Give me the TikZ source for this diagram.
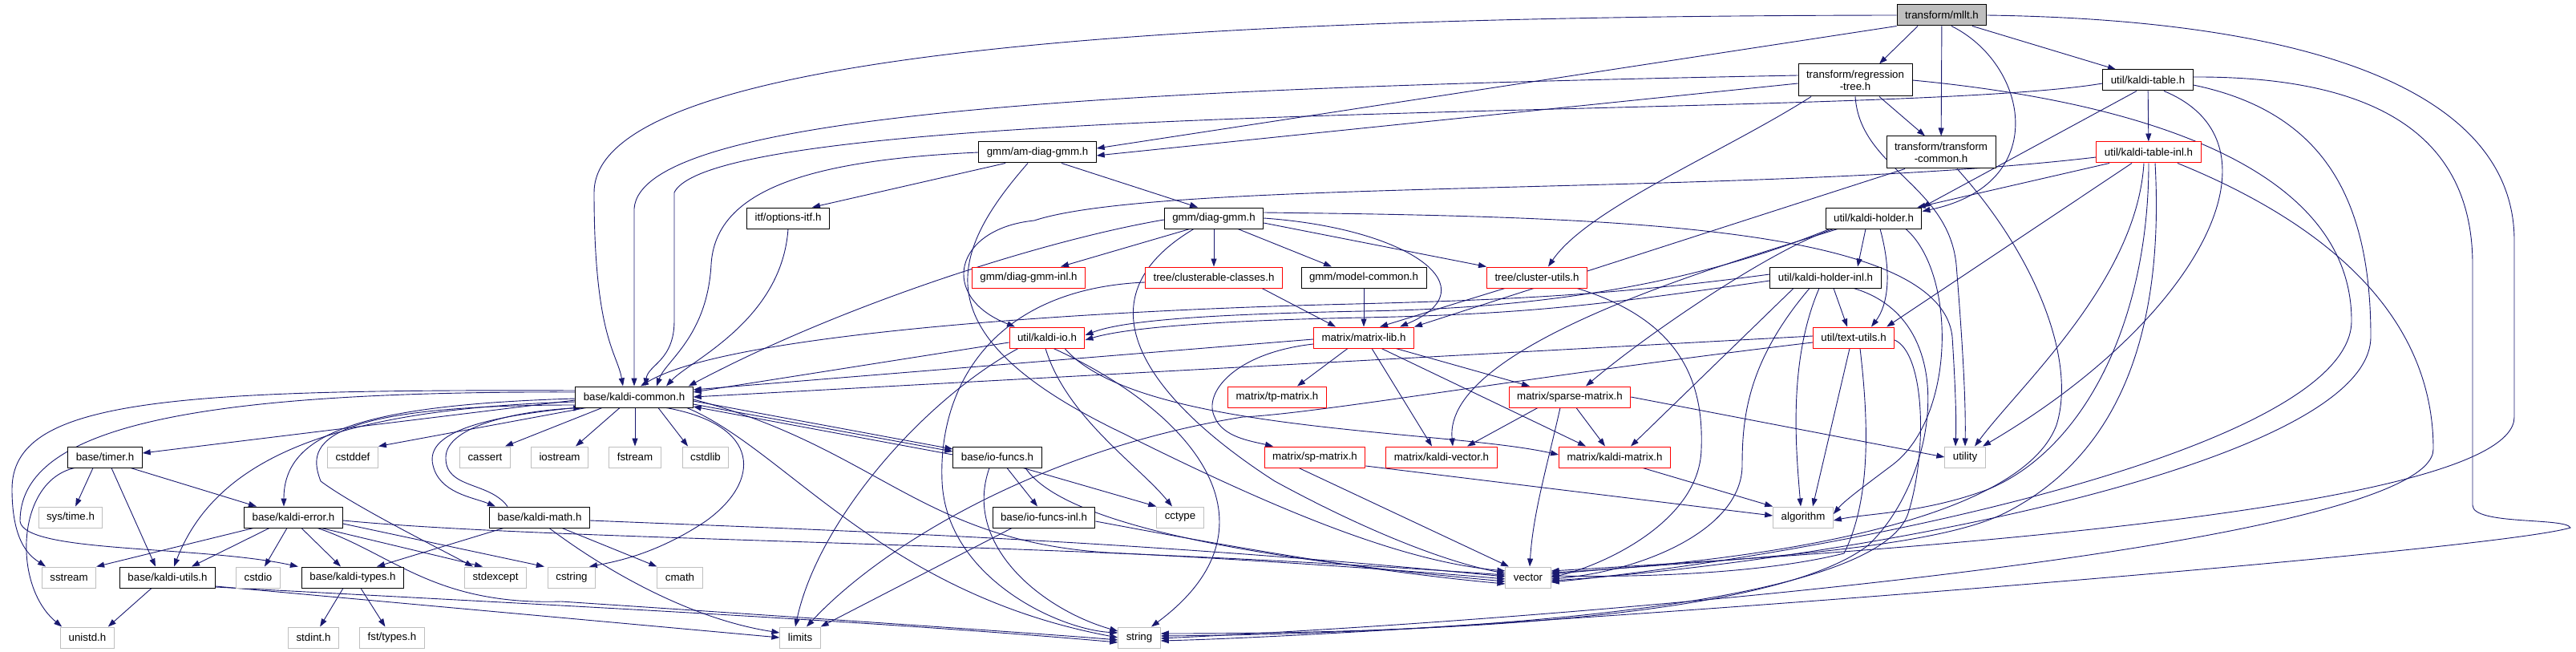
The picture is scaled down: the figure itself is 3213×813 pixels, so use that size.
\documentclass[tikz,border=0pt]{standalone}
\usepackage{fontspec}
\setmainfont{Liberation Sans}
\usepackage{tikz}
\usetikzlibrary{arrows.meta}
\pgfdeclarelayer{edges}
\pgfsetlayers{edges,main}
\definecolor{edgeblue}{RGB}{25,25,112}
\definecolor{boxgray}{RGB}{191,191,191}

\begin{document}
\begin{tikzpicture}[x=1pt,y=-1pt,
	hdr/.style={draw=black, line width=1pt, fill=white, inner xsep=10pt, inner ysep=4pt,
		minimum height=26pt, font=\fontsize{13.3}{15}\selectfont},
	twoline/.style={hdr, align=center, minimum height=40pt},
	trunc/.style={hdr, draw=red},
	sys/.style={hdr, draw=boxgray},
	root/.style={hdr, fill=boxgray},
	dep/.style={draw=edgeblue, line width=0.9pt, -{Triangle[length=10pt,width=7pt]}}]

	\useasboundingbox (0,0) rectangle (3213,813);

	% headers
	\node[root] (mllt) at (2422,19) {transform/mllt.h};
	\node[twoline] (regtree) at (2314,100) {transform/regression\\-tree.h};
	\node[twoline] (transcommon) at (2421,190) {transform/transform\\-common.h};
	\node[hdr] (table) at (2679,100) {util/kaldi-table.h};
	\node[trunc] (tableinl) at (2680,190) {util/kaldi-table-inl.h};
	\node[hdr] (amdiag) at (1294,190) {gmm/am-diag-gmm.h};
	\node[hdr] (optitf) at (983,272) {itf/options-itf.h};
	\node[hdr] (diaggmm) at (1514,272) {gmm/diag-gmm.h};
	\node[hdr] (holder) at (2337,272) {util/kaldi-holder.h};
	\node[trunc] (diaginl) at (1283,346) {gmm/diag-gmm-inl.h};
	\node[trunc] (clusterable) at (1514,346) {tree/clusterable-classes.h};
	\node[hdr] (modelcommon) at (1701,346) {gmm/model-common.h};
	\node[trunc] (clusterutils) at (1917,346) {tree/cluster-utils.h};
	\node[hdr] (holderinl) at (2277,346) {util/kaldi-holder-inl.h};
	\node[trunc] (kaldiio) at (1306,421) {util/kaldi-io.h};
	\node[trunc] (matrixlib) at (1701,421) {matrix/matrix-lib.h};
	\node[trunc] (textutils) at (2312,421) {util/text-utils.h};
	\node[hdr] (common) at (791,495) {base/kaldi-common.h};
	\node[trunc] (tpmatrix) at (1593,495) {matrix/tp-matrix.h};
	\node[trunc] (sparse) at (1958,495) {matrix/sparse-matrix.h};
	\node[hdr] (timer) at (131,570) {base/timer.h};
	\node[sys] (cstddef) at (440,570) {cstddef};
	\node[sys] (cassert) at (605,570) {cassert};
	\node[sys] (iostream) at (698,570) {iostream};
	\node[sys] (fstream) at (792,570) {fstream};
	\node[sys] (cstdlib) at (880,570) {cstdlib};
	\node[hdr] (iofuncs) at (1244,570) {base/io-funcs.h};
	\node[trunc] (spmatrix) at (1640,570) {matrix/sp-matrix.h};
	\node[trunc] (kvector) at (1798,570) {matrix/kaldi-vector.h};
	\node[trunc] (kmatrix) at (2014,570) {matrix/kaldi-matrix.h};
	\node[sys] (utility) at (2451,570) {utility};
	\node[sys] (systime) at (88,645) {sys/time.h};
	\node[hdr] (kerror) at (366,645) {base/kaldi-error.h};
	\node[hdr] (kmath) at (673,645) {base/kaldi-math.h};
	\node[hdr] (iofuncsinl) at (1302,645) {base/io-funcs-inl.h};
	\node[sys] (cctype) at (1472,645) {cctype};
	\node[sys] (algorithm) at (2249,645) {algorithm};
	\node[sys] (sstream) at (86,720) {sstream};
	\node[hdr] (kutils) at (209,720) {base/kaldi-utils.h};
	\node[sys] (cstdio) at (322,720) {cstdio};
	\node[hdr] (ktypes) at (440,720) {base/kaldi-types.h};
	\node[sys] (stdexcept) at (618,720) {stdexcept};
	\node[sys] (cstring) at (713,720) {cstring};
	\node[sys] (cmath) at (848,720) {cmath};
	\node[sys] (vector) at (1906,720) {vector};
	\node[sys] (unistd) at (109,795) {unistd.h};
	\node[sys] (stdint) at (391,795) {stdint.h};
	\node[sys] (fsttypes) at (489,795) {fst/types.h};
	\node[sys] (limits) at (998,795) {limits};
	\node[sys] (string) at (1421,795) {string};

	\begin{pgfonlayer}{edges}
	% transform/mllt.h
	\draw[dep] (mllt.west) .. controls (1500,20) and (741,60) .. (741,240) .. controls (741,420) and (770,440) .. ([xshift=-14pt]common.north);
	\draw[dep] ([xshift=-30pt]mllt.south) -- ([xshift=30pt]regtree.north);
	\draw[dep] (mllt.south west) -- ([yshift=5pt]amdiag.east);
	\draw[dep] (mllt) -- (transcommon);
	\draw[dep] ([xshift=12pt]mllt.south) .. controls (2530,80) and (2560,230) .. ([yshift=-5pt]holder.north east);
	\draw[dep] ([xshift=38pt]mllt.south) -- ([xshift=-40pt]table.north);
	\draw[dep] (mllt.east) .. controls (2900,25) and (3136,120) .. (3136,300) -- (3136,520) .. controls (3136,640) and (2300,690) .. ([yshift=8pt]vector.east);

	% transform/regression-tree.h
	\draw[dep] ([yshift=6pt]regtree.west) .. controls (1400,110) and (800,140) .. (791,260) -- (common.north);
	\draw[dep] ([yshift=-4pt]regtree.west) -- ([yshift=-4pt]amdiag.east);
	\draw[dep] ([xshift=30pt]regtree.south) -- ([xshift=-20pt]transcommon.north);
	\draw[dep] ([xshift=-55pt]regtree.south) .. controls (2150,190) and (1980,260) .. ([xshift=14pt]clusterutils.north);
	\draw[dep] (regtree.south) .. controls (2320,210) and (2430,230) .. (2440,330) .. controls (2448,430) and (2452,500) .. (utility.north);
	\draw[dep] (regtree.east) .. controls (2700,130) and (2933,220) .. (2933,400) .. controls (2933,560) and (2300,690) .. ([yshift=-6pt]vector.east);

	% transform/transform-common.h
	\draw[dep] ([xshift=-45pt]transcommon.south) -- (matrixlib.north east);
	\draw[dep] ([xshift=20pt]transcommon.south) .. controls (2540,320) and (2590,450) .. (2565,530) .. controls (2520,650) and (2200,700) .. ([yshift=6pt]vector.east);

	% util/kaldi-table.h
	\draw[dep] ([xshift=-14pt]table.south) -- (holder.north east);
	\draw[dep] (table) -- (tableinl);
	\draw[dep] ([yshift=-4pt]table.west) .. controls (2350,150) and (900,120) .. (841,240) -- (841,400) .. controls (841,450) and (808,455) .. ([xshift=14pt]common.north);
	\draw[dep] ([xshift=20pt]table.south) .. controls (2860,180) and (2740,400) .. ([xshift=22pt]utility.north);
	\draw[dep] ([yshift=-6pt]table.east) .. controls (2900,140) and (2957,250) .. (2957,420) .. controls (2957,580) and (2300,700) .. ([yshift=-4pt]vector.east);
	\draw[dep] ([yshift=4pt]table.east) .. controls (2950,95) and (3084,160) .. (3084,330) -- (3084,630) .. controls (3084,655) and (3200,645) .. (3206,658) .. controls (3100,690) and (1800,790) .. ([yshift=-4pt]string.east);

	% util/kaldi-table-inl.h
	\draw[dep] ([xshift=-49pt]tableinl.south) -- ([xshift=-6pt]holder.north east);
	\draw[dep] ([yshift=-6pt]tableinl.west) .. controls (2200,245) and (1450,222) .. (1290,275) .. controls (1190,285) and (1170,370) .. ([xshift=-40pt]kaldiio.north);
	\draw[dep] ([xshift=-21pt]tableinl.south) -- ([xshift=-10pt]textutils.north east);
	\draw[dep] ([xshift=-6pt]tableinl.south) .. controls (2665,350) and (2520,480) .. ([xshift=12pt]utility.north);
	\draw[dep] (tableinl.south) .. controls (2680,400) and (2600,560) .. (2480,610) .. controls (2400,640) and (2330,640) .. ([yshift=-4pt]algorithm.east);
	\draw[dep] ([xshift=8pt]tableinl.south) .. controls (2700,420) and (2640,570) .. (2500,640) .. controls (2400,690) and (2100,700) .. ([yshift=4pt]vector.east);
	\draw[dep] ([xshift=36pt]tableinl.south) .. controls (2880,270) and (3035,380) .. (3035,560) .. controls (3035,680) and (2000,770) .. ([yshift=-1pt]string.east);

	% gmm/am-diag-gmm.h
	\draw[dep] (amdiag.west) .. controls (1000,200) and (892,240) .. (887,330) .. controls (882,420) and (830,450) .. ([xshift=28pt]common.north);
	\draw[dep] ([xshift=-40pt]amdiag.south) -- ([xshift=30pt]optitf.north);
	\draw[dep] ([xshift=30pt]amdiag.south) -- ([xshift=-20pt]diaggmm.north);
	\draw[dep] ([xshift=-12pt]amdiag.south) .. controls (1180,320) and (1150,420) .. (1400,540) .. controls (1600,640) and (1750,700) .. ([yshift=8pt]vector.west);

	% itf/options-itf.h
	\draw[dep] (optitf.south) .. controls (975,400) and (860,450) .. ([xshift=40pt]common.north);

	% gmm/diag-gmm.h
	\draw[dep] ([xshift=-30pt]diaggmm.south) -- ([xshift=40pt]diaginl.north);
	\draw[dep] (diaggmm) -- (clusterable);
	\draw[dep] ([xshift=30pt]diaggmm.south) -- ([xshift=-40pt]modelcommon.north);
	\draw[dep] ([yshift=-6pt]diaggmm.east) -- (clusterutils.north west);
	\draw[dep] (diaggmm.east) .. controls (1760,285) and (1860,360) .. ([xshift=45pt]matrixlib.north);
	\draw[dep] ([yshift=-2pt]diaggmm.west) .. controls (1300,300) and (1050,380) .. ([xshift=-6pt]common.north east);
	\draw[dep] ([xshift=-25pt]diaggmm.south) .. controls (1330,380) and (1450,510) .. (1590,600) .. controls (1700,660) and (1800,700) .. ([yshift=5pt]vector.west);
	\draw[dep] ([yshift=7pt]diaggmm.east) .. controls (2000,270) and (2420,280) .. (2435,420) .. controls (2440,500) and (2440,530) .. ([xshift=-12pt]utility.north);

	% tree/clusterable-classes.h
	\draw[dep] ([xshift=60pt]clusterable.south) -- ([xshift=-35pt]matrixlib.north);
	\draw[dep] ([yshift=-6pt]clusterable.west) .. controls (1240,360) and (1170,480) .. (1175,600) .. controls (1180,720) and (1320,785) .. ([yshift=6pt]string.west);

	% gmm/model-common.h, tree/cluster-utils.h
	\draw[dep] (modelcommon) -- (matrixlib);
	\draw[dep] ([xshift=-40pt]clusterutils.south) -- ([xshift=20pt]matrixlib.north);
	\draw[dep] ([xshift=50pt]clusterutils.south) .. controls (2100,400) and (2125,480) .. (2122,560) .. controls (2120,650) and (2000,705) .. (vector.east);

	% util/kaldi-holder.h
	\draw[dep] ([xshift=-10pt]holder.south) -- ([xshift=40pt]holderinl.north);
	\draw[dep] ([xshift=8pt]holder.south) .. controls (2360,340) and (2355,380) .. ([xshift=22pt]textutils.north);
	\draw[dep] ([xshift=-55pt]holder.south) .. controls (2100,360) and (1900,385) .. (1700,388) .. controls (1500,392) and (1400,400) .. ([yshift=3pt]kaldiio.east);
	\draw[dep] ([xshift=-50pt]holder.south) .. controls (2210,310) and (2050,420) .. ([xshift=20pt]sparse.north);
	\draw[dep] ([xshift=-45pt]holder.south) .. controls (2150,330) and (1800,430) .. ([xshift=14pt]kvector.north);
	\draw[dep] ([xshift=40pt]holder.south) .. controls (2440,340) and (2440,520) .. (2360,580) .. controls (2320,610) and (2300,625) .. ([yshift=4pt]algorithm.east);

	% util/kaldi-holder-inl.h
	\draw[dep] ([yshift=4pt]holderinl.west) .. controls (2000,370) and (1850,375) .. (1650,380) .. controls (1300,390) and (900,420) .. ([xshift=8pt]common.north);
	\draw[dep] ([yshift=-4pt]holderinl.west) .. controls (2000,380) and (1900,392) .. (1700,396) .. controls (1500,400) and (1400,410) .. ([yshift=-3pt]kaldiio.east);
	\draw[dep] ([xshift=-40pt]holderinl.south) -- ([xshift=20pt]kmatrix.north);
	\draw[dep] ([xshift=-20pt]holderinl.south) .. controls (2180,450) and (2173,520) .. (2173,580) .. controls (2173,660) and (2050,712) .. ([yshift=-2pt]vector.east);
	\draw[dep] ([xshift=-8pt]holderinl.south) .. controls (2230,450) and (2240,560) .. ([xshift=-3pt]algorithm.north);
	\draw[dep] ([xshift=10pt]holderinl.south) -- ([xshift=-8pt]textutils.north);
	\draw[dep] ([xshift=35pt]holderinl.south) .. controls (2450,400) and (2415,600) .. (2330,680) .. controls (2200,780) and (1700,790) .. ([yshift=5pt]string.east);

	% util/kaldi-io.h
	\draw[dep] ([yshift=-6pt]kaldiio.west) -- ([yshift=6pt]common.east);
	\draw[dep] ([xshift=-36pt]kaldiio.south) .. controls (1150,500) and (1020,650) .. ([xshift=-6pt]limits.north);
	\draw[dep] ([xshift=-2pt]kaldiio.south) .. controls (1330,520) and (1420,580) .. ([xshift=-10pt]cctype.north);
	\draw[dep] ([xshift=8pt]kaldiio.south) .. controls (1500,520) and (1600,660) .. ([xshift=15pt]string.north);
	\draw[dep] ([xshift=22pt]kaldiio.south) .. controls (1420,540) and (1800,535) .. ([yshift=3pt]kmatrix.west);

	% matrix/matrix-lib.h
	\draw[dep] ([yshift=-2pt]matrixlib.west) -- ([yshift=9pt]common.east);
	\draw[dep] ([xshift=-20pt]matrixlib.south) -- ([xshift=25pt]tpmatrix.north);
	\draw[dep] ([yshift=-8pt]matrixlib.west) .. controls (1540,440) and (1500,490) .. (1515,520) .. controls (1525,545) and (1560,550) .. ([xshift=-52pt]spmatrix.north);
	\draw[dep] ([xshift=10pt]matrixlib.south) -- ([xshift=-12pt]kvector.north);
	\draw[dep] ([xshift=22pt]matrixlib.south) -- ([xshift=-36pt]kmatrix.north);
	\draw[dep] ([xshift=40pt]matrixlib.south) -- ([xshift=-50pt]sparse.north);

	% matrix/sparse-matrix.h, matrix/sp-matrix.h, matrix/kaldi-matrix.h
	\draw[dep] ([xshift=-40pt]sparse.south) -- ([xshift=32pt]kvector.north);
	\draw[dep] ([xshift=-12pt]sparse.south) .. controls (1930,580) and (1912,640) .. ([xshift=2pt]vector.north);
	\draw[dep] ([xshift=8pt]sparse.south) -- ([xshift=-12pt]kmatrix.north);
	\draw[dep] (sparse.east) -- (utility.west);
	\draw[dep] ([xshift=-20pt]spmatrix.south) -- ([xshift=-24pt]vector.north);
	\draw[dep] ([yshift=-11pt]spmatrix.east) -- ([yshift=2pt]algorithm.west);
	\draw[dep] ([xshift=35pt]kmatrix.south) -- (algorithm.north west);

	% base/kaldi-common.h
	\draw[dep] ([yshift=-4pt]common.west) -- ([yshift=5pt]timer.east);
	\draw[dep] ([xshift=-60pt]common.south) -- (cstddef.north east);
	\draw[dep] ([xshift=-40pt]common.south) -- ([xshift=25pt]cassert.north);
	\draw[dep] ([xshift=-18pt]common.south) -- ([xshift=20pt]iostream.north);
	\draw[dep] ([xshift=1pt]common.south) -- (fstream.north);
	\draw[dep] ([xshift=30pt]common.south) -- ([xshift=-22pt]cstdlib.north);
	\draw[dep] ([yshift=-5pt]common.east) -- ([yshift=10pt]iofuncs.west);
	\draw[dep] ([yshift=-9pt]common.east) -- ([yshift=7pt]iofuncs.west);
	\draw[dep] (common.south west) .. controls (600,520) and (530,540) .. (540,580) .. controls (548,615) and (590,620) .. ([xshift=-55pt]kmath.north);
	\draw[dep] ([yshift=-2pt]common.west) .. controls (450,505) and (354,540) .. ([xshift=-12pt]kerror.north);
	\draw[dep] ([yshift=-6pt]common.west) .. controls (420,510) and (270,570) .. ([xshift=8pt]kutils.north);
	\draw[dep] ([yshift=-10pt]common.west) .. controls (380,505) and (385,560) .. (400,600) .. controls (440,630) and (540,680) .. ([xshift=-28pt]stdexcept.north);
	\draw[dep] ([yshift=8pt]common.west) .. controls (200,485) and (15,500) .. (15,610) .. controls (15,680) and (40,695) .. ([xshift=-29pt]sstream.north);
	\draw[dep] ([yshift=6pt]common.west) .. controls (210,487) and (25,540) .. (25,650) .. controls (30,690) and (250,680) .. ([xshift=-4pt]ktypes.north west);
	\draw[dep] ([xshift=40pt]common.south) .. controls (950,530) and (950,600) .. (880,650) .. controls (820,690) and (770,700) .. ([xshift=22pt]cstring.north);
	\draw[dep] ([xshift=-8pt]common.south east) .. controls (980,560) and (1100,740) .. (string.west);
	\draw[dep] ([yshift=-3pt]common.east) .. controls (1100,560) and (1150,680) .. (1400,690) .. controls (1600,700) and (1800,715) .. ([yshift=-2pt]vector.west);

	% base/kaldi-error.h
	\draw[dep] ([xshift=-50pt]kerror.south) -- (sstream.north east);
	\draw[dep] ([xshift=-30pt]kerror.south) -- ([xshift=30pt]kutils.north);
	\draw[dep] ([xshift=-8pt]kerror.south) -- ([xshift=8pt]cstdio.north);
	\draw[dep] ([xshift=10pt]kerror.south) -- ([xshift=-15pt]ktypes.north);
	\draw[dep] ([xshift=35pt]kerror.south) -- ([xshift=-16pt]stdexcept.north);
	\draw[dep] ([yshift=-8pt]kerror.east) -- ([xshift=-4pt]cstring.north west);
	\draw[dep] ([xshift=30pt]kerror.south) .. controls (490,690) and (540,755) .. (700,750) .. controls (1000,770) and (1300,790) .. ([yshift=-3pt]string.west);
	\draw[dep] ([yshift=-4pt]kerror.east) .. controls (700,675) and (1300,675) .. ([yshift=3pt]vector.west);

	% base/kaldi-math.h
	\draw[dep] ([xshift=-40pt]kmath.north) .. controls (610,600) and (555,610) .. (556,570) .. controls (557,530) and (650,512) .. ([xshift=8pt]common.south west);
	\draw[dep] ([xshift=-45pt]kmath.south) -- ([xshift=30pt]ktypes.north);
	\draw[dep] ([xshift=28pt]kmath.south) -- (cmath.north west);
	\draw[dep] ([xshift=12pt]kmath.south) .. controls (740,700) and (850,770) .. ([yshift=6pt]limits.west);
	\draw[dep] ([yshift=-4pt]kmath.east) .. controls (1000,660) and (1400,672) .. ([yshift=1pt]vector.west);

	% base/timer.h
	\draw[dep] ([xshift=-15pt]timer.south) -- (systime);
	\draw[dep] ([xshift=8pt]timer.south) -- ([xshift=-15pt]kutils.north);
	\draw[dep] ([xshift=32pt]timer.south) -- ([xshift=-46pt]kerror.north);
	\draw[dep] ([xshift=-38pt]timer.south) .. controls (20,600) and (15,730) .. ([xshift=2pt]unistd.north west);

	% base/kaldi-utils.h, base/kaldi-types.h
	\draw[dep] ([xshift=-20pt]kutils.south) -- ([xshift=-8pt]unistd.north east);
	\draw[dep] ([yshift=-11pt]kutils.east) -- (limits.west);
	\draw[dep] ([yshift=-12pt]kutils.east) .. controls (700,755) and (1100,775) .. ([yshift=-6pt]string.west);
	\draw[dep] ([xshift=-12pt]ktypes.south) -- (stdint);
	\draw[dep] ([xshift=10pt]ktypes.south) -- (fsttypes);

	% base/io-funcs.h, base/io-funcs-inl.h
	\draw[dep] ([yshift=3pt]iofuncs.west) -- ([yshift=-12pt]common.east);
	\draw[dep] ([xshift=12pt]iofuncs.south) -- ([xshift=-8pt]iofuncsinl.north);
	\draw[dep] ([xshift=32pt]iofuncs.south) -- (cctype.north west);
	\draw[dep] ([xshift=-10pt]iofuncs.south) .. controls (1200,680) and (1300,760) .. ([yshift=8pt]string.west);
	\draw[dep] ([xshift=35pt]iofuncs.south) .. controls (1330,660) and (1600,700) .. ([yshift=-5pt]vector.west);
	\draw[dep] ([xshift=-40pt]iofuncsinl.south) -- (limits.north east);
	\draw[dep] ([yshift=-5pt]iofuncsinl.east) .. controls (1500,675) and (1700,712) .. ([yshift=-8pt]vector.west);

	% util/text-utils.h
	\draw[dep] ([yshift=2pt]textutils.west) -- (common.east);
	\draw[dep] ([yshift=-6pt]textutils.west) .. controls (1900,470) and (1650,515) .. (1550,520) .. controls (1300,560) and (1100,680) .. ([xshift=8pt]limits.north);
	\draw[dep] ([xshift=-5pt]textutils.south) -- ([xshift=12pt]algorithm.north);
	\draw[dep] ([xshift=8pt]textutils.south) .. controls (2330,520) and (2335,620) .. (2300,690) .. controls (2200,715) and (2050,720) .. ([yshift=2pt]vector.east);
	\draw[dep] ([yshift=-3pt]textutils.east) .. controls (2400,440) and (2405,560) .. (2380,640) .. controls (2340,760) and (1800,790) .. ([yshift=2pt]string.east);
	\end{pgfonlayer}

\end{tikzpicture}
\end{document}
